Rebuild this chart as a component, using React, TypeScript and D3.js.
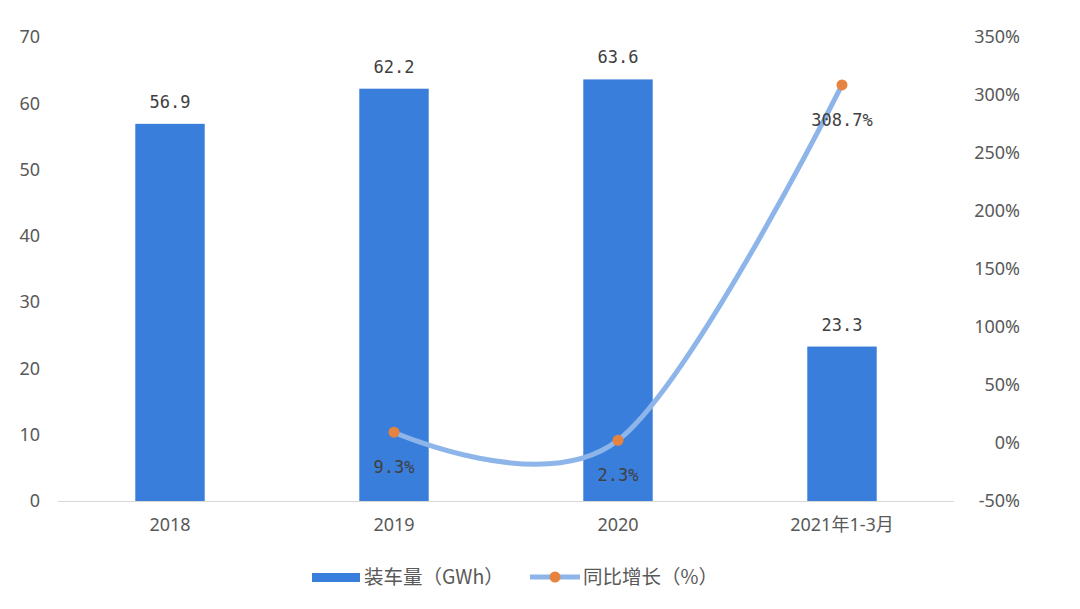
import React from "react";
import * as d3 from "d3";

const categories = ["2018", "2019", "2020", "2021年1-3月"];
const volume = [56.9, 62.2, 63.6, 23.3];
const growth: (number | null)[] = [null, 9.3, 2.3, 308.7];
const leftTicks = [0, 10, 20, 30, 40, 50, 60, 70];
const rightTicks = [-50, 0, 50, 100, 150, 200, 250, 300, 350];
const seriesNames = ["装车量（GWh）", "同比增长（%）"];

const W = 1080;
const H = 609;
const plot = { left: 58, right: 954, top: 37, bottom: 501 };

const BAR_COLOR = "#3a7edb";
const LINE_COLOR = "#8db5ea";
const DOT_COLOR = "#e5833f";
const AXIS_TEXT = "#595959";
const LABEL_TEXT = "#404040";
const TICK_FONT = "'Noto Sans', 'Noto Sans CJK SC', sans-serif";
const LABEL_FONT = "'DejaVu Sans Mono', monospace";

export default function App() {
  const x = d3
    .scaleBand<string>()
    .domain(categories)
    .range([plot.left, plot.right])
    .paddingInner(0.69)
    .paddingOuter(0.345);
  const yL = d3.scaleLinear().domain([0, 70]).range([plot.bottom, plot.top]);
  const yR = d3.scaleLinear().domain([-50, 350]).range([plot.bottom, plot.top]);

  const pts = categories
    .map((c, i) => ({ c, v: growth[i] }))
    .filter((d) => d.v !== null) as { c: string; v: number }[];

  const line = d3
    .line<{ c: string; v: number }>()
    .x((d) => (x(d.c) as number) + x.bandwidth() / 2)
    .y((d) => yR(d.v))
    .curve(d3.curveCardinal.tension(0));

  const legendY = 577;

  return (
    <svg
      width={W}
      height={H}
      style={{ position: "absolute", left: 0, top: 0, display: "block", background: "#fff" }}
    >
      <rect x={0} y={0} width={W} height={H} fill="#fff" />
      {leftTicks.map((t) => (
        <text
          key={"l" + t}
          x={40}
          y={yL(t)}
          dy="0.35em"
          textAnchor="end"
          fontSize={18}
          fontFamily={TICK_FONT}
          fill={AXIS_TEXT}
        >
          {t}
        </text>
      ))}
      {rightTicks.map((t) => (
        <text
          key={"r" + t}
          x={1020}
          y={yR(t)}
          dy="0.35em"
          textAnchor="end"
          fontSize={18}
          fontFamily={TICK_FONT}
          fill={AXIS_TEXT}
        >
          {t + "%"}
        </text>
      ))}
      <line
        x1={plot.left}
        x2={plot.right}
        y1={yL(0) + 0.5}
        y2={yL(0) + 0.5}
        stroke="#d9d9d9"
        strokeWidth={1}
      />
      {categories.map((c, i) => (
        <rect
          key={"b" + c}
          x={x(c)}
          y={yL(volume[i])}
          width={x.bandwidth()}
          height={yL(0) - yL(volume[i])}
          fill={BAR_COLOR}
        />
      ))}
      {categories.map((c, i) => (
        <text
          key={"bl" + c}
          x={(x(c) as number) + x.bandwidth() / 2}
          y={yL(volume[i]) - 22}
          dy="0.35em"
          textAnchor="middle"
          fontSize={17}
          fontFamily={LABEL_FONT}
          fill={LABEL_TEXT}
        >
          {volume[i].toFixed(1)}
        </text>
      ))}
      {categories.map((c) => (
        <text
          key={"c" + c}
          x={(x(c) as number) + x.bandwidth() / 2}
          y={525}
          dy="0.35em"
          textAnchor="middle"
          fontSize={18}
          fontFamily={TICK_FONT}
          fill={AXIS_TEXT}
        >
          {c}
        </text>
      ))}
      <path d={line(pts) || ""} fill="none" stroke={LINE_COLOR} strokeWidth={5} strokeLinecap="round" />
      {pts.map((d) => (
        <circle
          key={"p" + d.c}
          cx={(x(d.c) as number) + x.bandwidth() / 2}
          cy={yR(d.v)}
          r={5.5}
          fill={DOT_COLOR}
        />
      ))}
      {pts.map((d) => (
        <text
          key={"pl" + d.c}
          x={(x(d.c) as number) + x.bandwidth() / 2}
          y={yR(d.v) + 35}
          dy="0.35em"
          textAnchor="middle"
          fontSize={17}
          fontFamily={LABEL_FONT}
          fill={LABEL_TEXT}
        >
          {d.v.toFixed(1) + "%"}
        </text>
      ))}
      <rect x={312} y={legendY - 4} width={48} height={9} fill={BAR_COLOR} />
      <text
        x={364}
        y={legendY}
        dy="0.35em"
        fontSize={19.5}
        fontFamily="'Noto Sans CJK SC', sans-serif"
        fill={AXIS_TEXT}
      >
        {seriesNames[0]}
      </text>
      <line x1={530} x2={580} y1={legendY} y2={legendY} stroke={LINE_COLOR} strokeWidth={5} />
      <circle cx={555} cy={legendY} r={5.5} fill={DOT_COLOR} />
      <text
        x={583}
        y={legendY}
        dy="0.35em"
        fontSize={19.5}
        fontFamily="'Noto Sans CJK SC', sans-serif"
        fill={AXIS_TEXT}
      >
        {seriesNames[1]}
      </text>
    </svg>
  );
}
